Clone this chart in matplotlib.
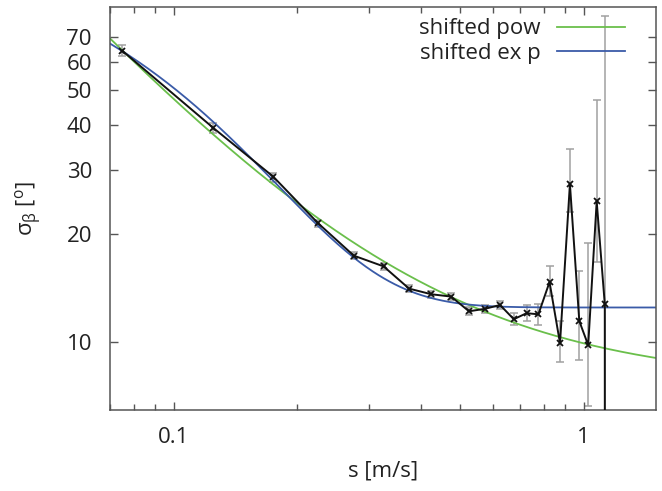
import numpy as np
import matplotlib
matplotlib.use("Agg")
import matplotlib.pyplot as plt
from matplotlib.ticker import FixedLocator, NullFormatter, NullLocator

plt.rcParams['font.family'] = ['Open Sans', 'DejaVu Sans']

# measured data
s = [0.075, 0.125, 0.175, 0.225, 0.275, 0.325, 0.375, 0.425, 0.475, 0.525,
     0.575, 0.625, 0.675, 0.725, 0.775, 0.825, 0.875, 0.925, 0.975, 1.025,
     1.075, 1.125, 1.126]
sigma = [64.3, 39.3, 28.8, 21.4, 17.4, 16.25, 14.1, 13.6, 13.4, 12.2,
         12.4, 12.7, 11.6, 12.05, 11.97, 14.7, 9.95, 27.5, 11.46, 9.83,
         24.6, 12.76, 0.5]
err_hi = [66.7, 40.6, 29.4, 21.9, 17.8, 16.6, 14.4, 13.9, 13.7, 12.5,
          12.7, 13.0, 12.05, 12.68, 12.76, 16.25, 11.46, 34.4, 15.74, 18.9,
          47.0, 80.3, 0.5]
err_lo = [62.2, 38.1, 27.9, 20.9, 17.0, 15.9, 13.8, 13.3, 13.1, 11.9,
          12.1, 12.36, 11.2, 11.46, 11.16, 13.43, 8.82, 23.05, 8.93, 6.67,
          16.7, 1.0, 0.5]

# fitted models
pow_a, pow_b, pow_c = 2.227, -1.25, 7.716
exp_a, exp_k, exp_c = 127.0, 12.0, 12.5

x_ticks_major = [0.1, 1]
x_ticks_minor = [0.07, 0.08, 0.09, 0.2, 0.3, 0.4, 0.5, 0.6, 0.7, 0.8, 0.9]
y_ticks = [10, 20, 30, 40, 50, 60, 70]

FS = 16
fig = plt.figure(figsize=(6.62, 4.91), dpi=100)
ax = fig.add_axes([0.1662, 0.165, 0.8248, 0.8207])

sv = np.array(s)
sg = np.array(sigma)
lo = sg - np.array(err_lo)
hi = np.array(err_hi) - sg
n = len(s) - 1
ax.errorbar(sv[:n], sg[:n], yerr=[lo[:n], hi[:n]], fmt='none', ecolor='#a0a0a0',
            elinewidth=1.1, capsize=3, capthick=1.1, zorder=1)

xx = np.logspace(np.log10(0.07), np.log10(1.5), 400)
ax.plot(xx, pow_a * xx ** pow_b + pow_c, color='#6abf4b', lw=1.3,
        label='shifted pow', zorder=2)
ax.plot(xx, exp_a * np.exp(-exp_k * xx) + exp_c, color='#3a5ba8', lw=1.3,
        label='shifted ex p', zorder=2)

ax.plot(sv, sg, color='#111111', lw=1.4, marker='x', ms=5, mew=1.3, zorder=3)

ax.set_xscale('log')
ax.set_yscale('log')
ax.set_xlim(0.07, 1.5)
ax.set_ylim(6.5, 85)

ax.xaxis.set_major_locator(FixedLocator(x_ticks_major))
ax.xaxis.set_minor_locator(FixedLocator(x_ticks_minor))
ax.xaxis.set_minor_formatter(NullFormatter())
ax.set_xticklabels(['0.1', '1'])
ax.yaxis.set_major_locator(FixedLocator(y_ticks))
ax.yaxis.set_minor_locator(NullLocator())
ax.set_yticklabels([str(v) for v in y_ticks])

ax.tick_params(which='both', direction='in', top=True, right=True,
               color='#555555', labelsize=FS, labelcolor='#222222')
ax.tick_params(axis='y', which='major', length=6, width=1, pad=13)
ax.tick_params(axis='x', which='major', length=6, width=1, pad=12)
ax.tick_params(which='minor', length=4, width=1)
for sp in ax.spines.values():
    sp.set_color('#555555')
    sp.set_linewidth(1.1)

ax.set_xlabel('s [m/s]', fontsize=FS, color='#222222', labelpad=9)
ax.set_ylabel(r'σ$_\mathregular{β}$ [$^\mathregular{o}$]', fontsize=FS,
              color='#222222', labelpad=16)

leg = ax.legend(loc='upper right', frameon=False, markerfirst=False,
                fontsize=FS, handlelength=3.05, borderaxespad=0.0,
                borderpad=0.0, labelspacing=0.15, handletextpad=0.75,
                bbox_to_anchor=(0.943, 0.972))
for t in leg.get_texts():
    t.set_color('#222222')

fig.savefig('out.png', dpi=100)
